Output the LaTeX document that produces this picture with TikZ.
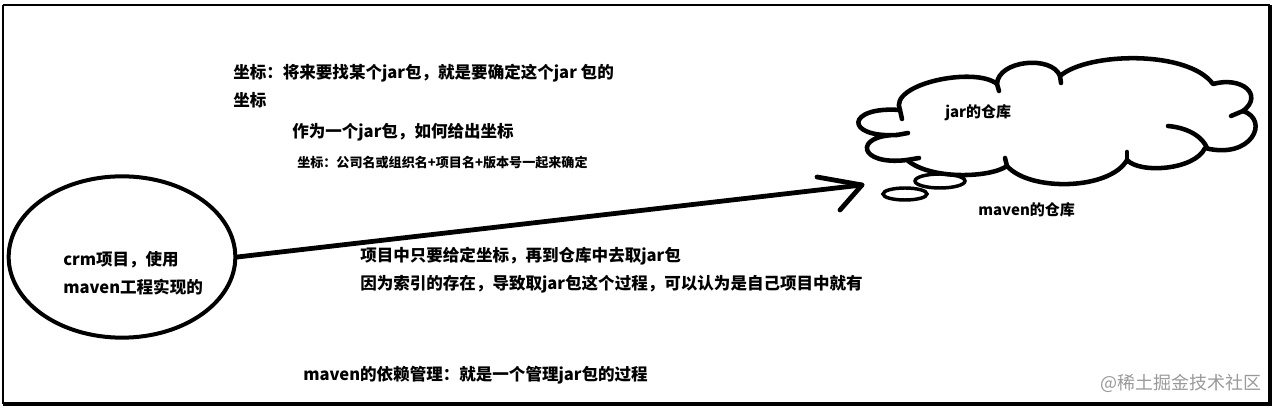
\documentclass[tikz,border=0pt]{standalone}
\usepackage{fontspec}
\setmainfont{Noto Sans CJK SC}
\usetikzlibrary{shapes.geometric}
\begin{document}
\begin{tikzpicture}[x=0.75pt,y=-0.75pt,
  txt/.style={anchor=west,inner sep=0pt,font=\bfseries\fontsize{12.4}{15}\selectfont},
  smalltxt/.style={anchor=west,inner sep=0pt,font=\bfseries\fontsize{9.8}{12}\selectfont},
  cloudtxt/.style={anchor=west,inner sep=0pt,font=\bfseries\fontsize{11.25}{13}\selectfont},
  wmark/.style={anchor=west,inner sep=0pt,text=black!40,font=\fontsize{13.5}{15}\selectfont},
  outline/.style={line width=3.4pt,line join=round,line cap=round},
  arrowline/.style={line width=3.6pt,line cap=round,line join=round},
  bubble/.style={draw,ellipse,line width=2.6pt,inner sep=0pt},
]
\useasboundingbox (0,0) rectangle (1275,409);
% frame
\draw[line width=1.5pt] (3,5) -- (1270,5);
\draw[line width=1.5pt] (3,5) -- (3,404);
\draw[line width=3pt] (1270,5) -- (1270,405);
\draw[line width=3pt] (3,404) -- (1272,404);

% top texts
\node[txt] (t1) at (233,73) {坐标：将来要找某个jar包，就是要确定这个jar 包的};
\node[txt] (t2) at (233,100) {坐标};
\node[txt] (t3) at (292,132) {作为一个jar包，如何给出坐标};
\node[smalltxt] (t4) at (297,163) {坐标：公司名或组织名+项目名+版本号一起来确定};

% ellipse
\node[draw,ellipse,line width=3pt,minimum width=170pt,minimum height=121pt,inner sep=0pt] (crm) at (122,257) {};
\node[txt] (e1) at (63,260) {crm项目，使用};
\node[txt] (e2) at (63,287) {maven工程实现的};

% cloud
\draw[outline] (897,135) .. controls (844,138) and (846,106) .. (900,110)
 .. controls (888,84) and (975,66) .. (997,84)
 .. controls (998,60) and (1052,55) .. (1060,76)
 .. controls (1088,52) and (1188,50) .. (1213,84)
 .. controls (1242,76) and (1264,95) .. (1243,111)
 .. controls (1270,120) and (1252,160) .. (1205,148)
 .. controls (1195,170) and (1140,174) .. (1127,160)
 .. controls (1110,190) and (1030,192) .. (1007,166)
 .. controls (990,178) and (930,180) .. (907,160)
 .. controls (858,166) and (853,135) .. (897,135) -- cycle;
% inner ticks of the cloud
\draw[outline] (897,135) -- (908,133);
\draw[outline] (900,110) -- (902,119);
\draw[outline] (997,84) -- (999,91);
\draw[outline] (1060,76) -- (1061,83);
\draw[outline] (1243,111) -- (1231,116);
\draw[outline] (1168,126) .. controls (1190,128) and (1203,138) .. (1207,148);
\draw[outline] (1127,160) -- (1127,152);
\draw[outline] (1007,166) -- (1005,158);
\draw[outline] (907,160) -- (919,158);
\node[bubble,minimum width=37.5pt,minimum height=10.5pt] (b1) at (940,181) {};
\node[bubble,minimum width=33pt,minimum height=9pt] (b2) at (905,194) {};
\node[cloudtxt] (c1) at (945,113) {jar的仓库};
\node[cloudtxt] (c2) at (978,210) {maven的仓库};

% arrow
\coordinate (tip) at (862,185);
\coordinate (barbA) at (817,177);
\coordinate (barbB) at (840,210);
\draw[arrowline] (crm.east) -- (tip);
\draw[arrowline] (barbA) -- (tip) -- (barbB);

% middle & bottom texts
\node[txt] (m1) at (360,256) {项目中只要给定坐标，再到仓库中去取jar包};
\node[txt] (m2) at (360,284) {因为索引的存在，导致取jar包这个过程，可以认为是自己项目中就有};
\node[txt] (bt) at (303,375) {maven的依赖管理：就是一个管理jar包的过程};
\node[wmark] (wm) at (1100,383) {@稀土掘金技术社区};
\end{tikzpicture}
\end{document}
